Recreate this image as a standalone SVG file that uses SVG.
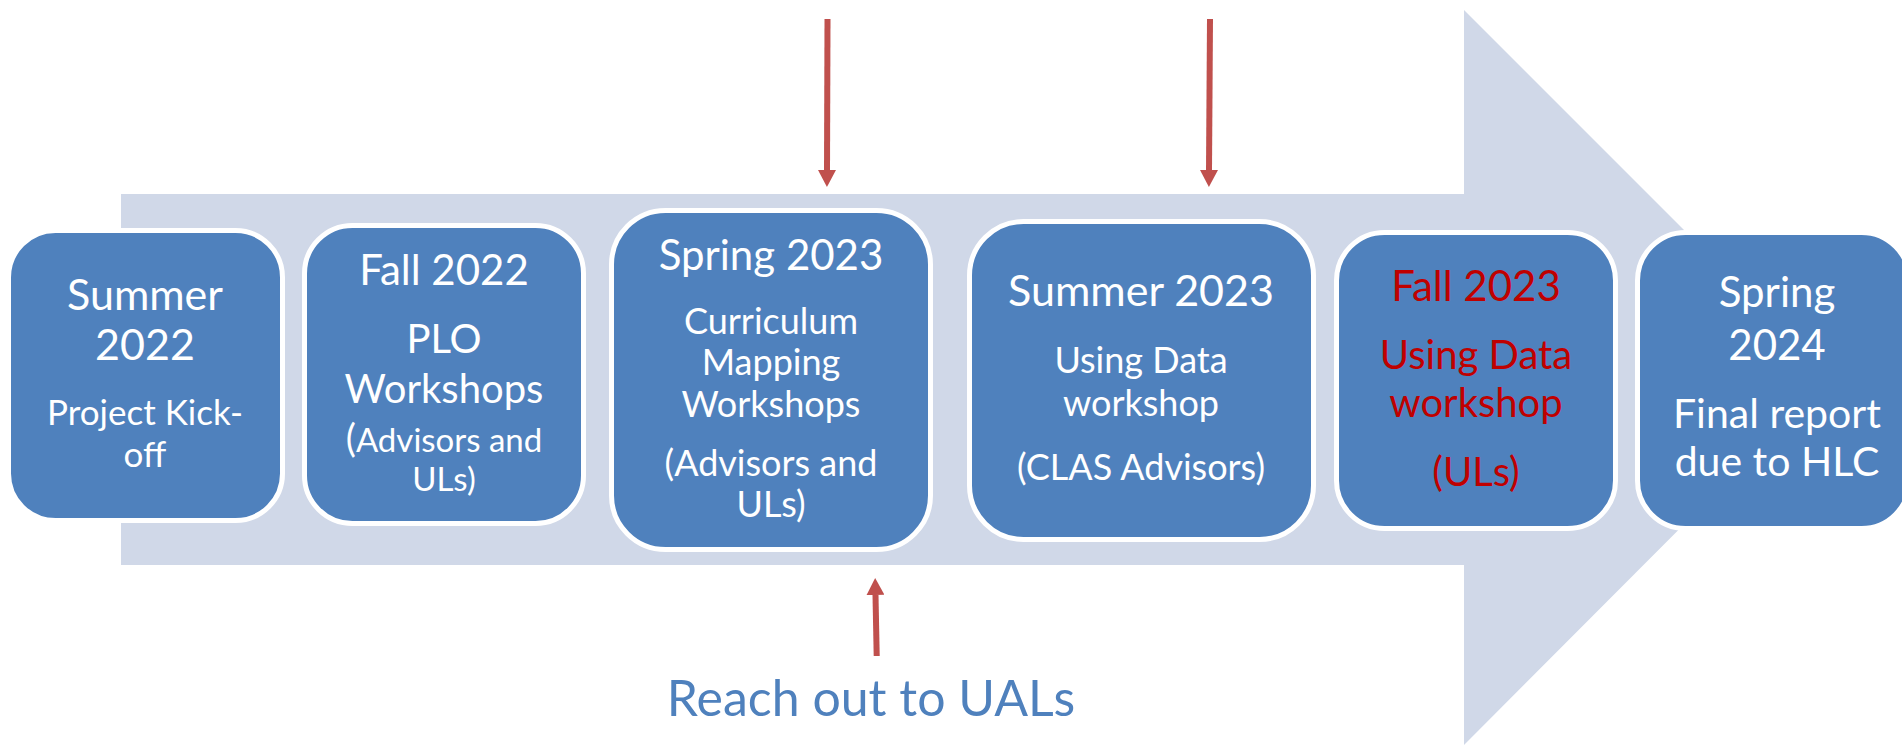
<svg xmlns="http://www.w3.org/2000/svg" width="1902" height="747" viewBox="0 0 1902 747">
  <style>
    .box { fill: #4F81BD; stroke: #FFFFFF; stroke-width: 5; }
    .t { font-family: Lato, "Open Sans", "Liberation Sans", sans-serif; text-anchor: middle; fill: #FFFFFF; }
    .red { fill: #C00000; }
    .h { font-size: 42px; }
    .s { font-size: 36px; }
    .conn { stroke: #C0504D; stroke-width: 6; fill: none; marker-end: url(#head); }
    .note { font-family: Lato, "Open Sans", "Liberation Sans", sans-serif; font-size: 50px; fill: #4F81BD; text-anchor: middle; }
  </style>
  <defs>
    <marker id="head" viewBox="0 0 17 18" refX="0" refY="9" markerWidth="17" markerHeight="18" markerUnits="userSpaceOnUse" orient="auto">
      <path d="M0,0 L17,9 L0,18 Z" fill="#C0504D"/>
    </marker>
  </defs>

  <!-- background timeline arrow -->
  <path id="timeline" d="M121,194 L1464,194 L1464,10 L1831,377 L1464,745 L1464,565 L121,565 Z" fill="#D0D8E8"/>

  <g id="summer2022">
    <rect class="box" x="8.5" y="230.5" width="274" height="290" rx="47"/>
    <text class="t" font-size="43" x="145" y="310">Summer</text>
    <text class="t" font-size="43" x="145" y="360">2022</text>
    <text class="t" font-size="35" x="145" y="425">Project Kick-</text>
    <text class="t" font-size="35" x="145" y="467">off</text>
  </g>

  <g id="fall2022">
    <rect class="box" x="304.5" y="225.5" width="279" height="298" rx="48"/>
    <text class="t h" x="444" y="285">Fall 2022</text>
    <text class="t" font-size="40" x="444" y="353">PLO</text>
    <text class="t" font-size="40" x="444" y="403">Workshops</text>
    <text class="t" font-size="33" x="444" y="452"><tspan font-size="38">(</tspan>Advisors and</text>
    <text class="t" font-size="33" x="444" y="491">ULs)</text>
  </g>

  <g id="spring2023">
    <rect class="box" x="611.5" y="210.5" width="319" height="339" rx="54"/>
    <text class="t h" x="771" y="270">Spring 2023</text>
    <text class="t s" x="771" y="334">Curriculum</text>
    <text class="t s" x="771" y="375">Mapping</text>
    <text class="t s" x="771" y="417">Workshops</text>
    <text class="t s" x="771" y="476">(Advisors and</text>
    <text class="t s" x="771" y="517">ULs)</text>
  </g>

  <g id="summer2023">
    <rect class="box" x="969.5" y="221.5" width="344" height="318" rx="54"/>
    <text class="t" font-size="43" x="1141" y="306">Summer 2023</text>
    <text class="t s" x="1141" y="373">Using Data</text>
    <text class="t s" x="1141" y="416">workshop</text>
    <text class="t s" x="1141" y="480">(CLAS Advisors)</text>
  </g>

  <g id="fall2023">
    <rect class="box" x="1336.5" y="232.5" width="279" height="296" rx="48"/>
    <text class="t h red" x="1476" y="301">Fall 2023</text>
    <text class="t red" font-size="40" x="1476" y="369">Using Data</text>
    <text class="t red" font-size="40" x="1476" y="417">workshop</text>
    <text class="t red" font-size="40" x="1476" y="486">(ULs)</text>
  </g>

  <g id="spring2024">
    <rect class="box" x="1637.5" y="232.5" width="272" height="296" rx="48"/>
    <text class="t h" x="1777" y="307">Spring</text>
    <text class="t h" x="1777" y="360">2024</text>
    <text class="t" font-size="41" x="1777" y="428">Final report</text>
    <text class="t" font-size="41" x="1777" y="476">due to HLC</text>
  </g>

  <g id="connectors">
    <line class="conn" x1="827.5" y1="19" x2="827" y2="170"/>
    <line class="conn" x1="1210" y1="19" x2="1209" y2="170"/>
    <line class="conn" x1="876.7" y1="656" x2="875.5" y2="595"/>
  </g>

  <g id="reach-out">
    <text class="note" x="871" y="716">Reach out to UALs</text>
  </g>
</svg>
